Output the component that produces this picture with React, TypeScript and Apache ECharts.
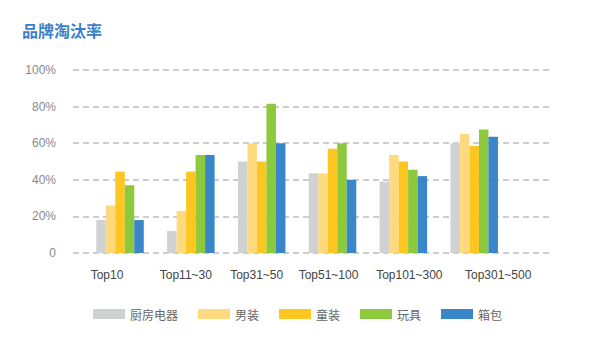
import React, { useEffect, useRef } from "react";
import * as echarts from "echarts";

const categories = ["Top10", "Top11~30", "Top31~50", "Top51~100", "Top101~300", "Top301~500"];
const seriesNames = ["厨房电器", "男装", "童装", "玩具", "箱包"];
const kitchen = [18, 12, 50, 43.5, 39, 60];
const menswear = [26, 23, 60, 43.5, 53.5, 65];
const kidswear = [44.5, 44.5, 50, 57, 50, 58.5];
const toys = [37, 53.5, 81.5, 60, 45.5, 67.5];
const bags = [18, 53.5, 60, 40, 42, 63.5];
const yTicks = [0, 20, 40, 60, 80, 100];

const colors = ["#d0d1d3", "#ffd97e", "#fdc620", "#8dc93c", "#3986c8"];
const values = [kitchen, menswear, kidswear, toys, bags];
// horizontal nudge (px) of each category label, as laid out in the reference
const labelShift = [-13, -5, -5, -4, 6, 24];

const FONT = "'Liberation Sans', 'Noto Sans CJK SC', sans-serif";

export default function App() {
  const ref = useRef<HTMLDivElement>(null);
  useEffect(() => {
    if (!ref.current) return;
    const chart = echarts.init(ref.current, undefined, { renderer: "svg" });
    const rich: Record<string, any> = {};
    labelShift.forEach((s, i) => {
      rich["l" + i] = {
        color: "#444444",
        fontSize: 12,
        fontFamily: FONT,
        padding: s >= 0 ? [0, 0, 0, 2 * s] : [0, -2 * s, 0, 0],
      };
    });
    chart.setOption({
      animation: false,
      backgroundColor: "#ffffff",
      textStyle: { fontFamily: FONT },
      title: {
        text: "品牌淘汰率",
        left: 22,
        top: 22,
        padding: 0,
        textStyle: { color: "#3a7fcb", fontSize: 16, fontWeight: "bold", fontFamily: "'Noto Sans CJK SC', sans-serif" },
      },
      legend: {
        left: 93,
        top: 308,
        padding: 0,
        itemWidth: 32,
        itemHeight: 10,
        itemGap: 20,
        icon: "rect",
        data: seriesNames,
        textStyle: { color: "#666666", fontSize: 12, fontFamily: "'Noto Sans CJK SC', sans-serif" },
      },
      grid: [
        { left: 73, right: 40, top: 70, bottom: 98 },
        { left: 84.6, width: 425, top: 70, bottom: 98 },
      ],
      xAxis: [
        { type: "category", gridIndex: 0, data: categories, show: false },
        {
          type: "category",
          gridIndex: 1,
          data: categories,
          axisLine: { show: false },
          axisTick: { show: false },
          axisLabel: {
            color: "#444444",
            fontSize: 12,
            margin: 16,
            interval: 0,
            fontFamily: FONT,
            formatter: (v: string, i: number) => `{l${i}|${v}}`,
            rich,
          },
        },
      ],
      yAxis: [
        {
          type: "value",
          gridIndex: 0,
          min: yTicks[0],
          max: yTicks[yTicks.length - 1],
          interval: 20,
          axisLine: { show: false },
          axisTick: { show: false },
          axisLabel: {
            color: "#888888",
            fontSize: 12,
            margin: 17,
            fontFamily: FONT,
            formatter: (v: number) => (v === 0 ? "0" : v + "%"),
          },
          splitLine: { lineStyle: { color: "#bdbdbd", width: 1.5, type: [6, 4] } },
        },
        {
          type: "value",
          gridIndex: 1,
          min: 0,
          max: 100,
          interval: 20,
          show: false,
          splitLine: { show: false },
        },
      ],
      series: seriesNames.map((name, i) => ({
        name,
        type: "bar",
        xAxisIndex: 1,
        yAxisIndex: 1,
        data: values[i],
        barWidth: 9.5,
        barGap: "0%",
        itemStyle: { color: colors[i] },
      })),
    });
    return () => chart.dispose();
  }, []);
  return <div ref={ref} style={{ position: "fixed", left: 0, top: 0, width: 590, height: 351 }} />;
}
